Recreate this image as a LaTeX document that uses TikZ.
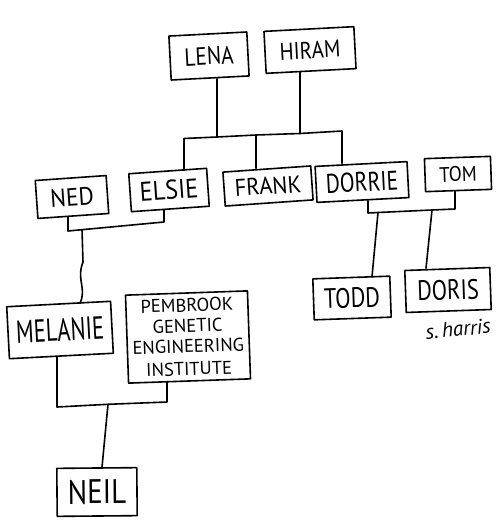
\documentclass[tikz,border=0pt]{standalone}
\usepackage{fontspec}
\usepackage{graphicx}
\setmainfont{PT Sans}
\newcommand\lbl[3]{\scalebox{#2}[1]{\fontsize{#1}{#1}\selectfont #3}}
\begin{document}
\begin{tikzpicture}[x=1pt,y=-1pt,
  box/.style={draw, line width=1.6pt, inner sep=0pt, align=center, line join=round},
  conn/.style={line width=1.6pt, line join=round, line cap=round}]
\useasboundingbox (0,0) rectangle (500,532);
% boxes
\node[box, minimum width=78, minimum height=44, rotate=3] (lena) at (209,56) {\lbl{25}{0.85}{LENA}};
\node[box, minimum width=90, minimum height=42, rotate=3] (hiram) at (310,50) {\lbl{24}{0.87}{HIRAM}};
\node[box, minimum width=71, minimum height=38, rotate=4] (ned) at (72,197) {\lbl{25}{0.94}{NED}};
\node[box, minimum width=78, minimum height=38, rotate=4] (elsie) at (169,190) {\lbl{27}{0.9}{ELSIE}};
\node[box, minimum width=88, minimum height=34, rotate=4] (frank) at (268,186) {\lbl{24}{0.94}{FRANK}};
\node[box, minimum width=92, minimum height=36, rotate=3] (dorrie) at (362,182) {\lbl{27}{0.8}{DORRIE}};
\node[box, minimum width=66, minimum height=33, rotate=2] (tom) at (458,174) {\lbl{21}{0.9}{TOM}};
\node[box, minimum width=104, minimum height=52, rotate=3] (melanie) at (60,330) {\lbl{32}{0.7}{MELANIE}};
\node[box, minimum width=122, minimum height=88, rotate=2, font=\fontsize{18.5}{20.5}\selectfont] (pgei) at (188,337)
  {PEMBROOK\\GENETIC\\ENGINEERING\\[2pt]INSTITUTE};
\node[box, minimum width=80, minimum height=48, rotate=0.5] (neil) at (97,492) {\lbl{34}{0.85}{NEIL}};
\node[box, minimum width=77, minimum height=41, rotate=2] (todd) at (352,298) {\lbl{28}{0.8}{TODD}};
\node[box, minimum width=85, minimum height=42, rotate=2] (doris) at (448,290) {\lbl{28}{0.8}{DORIS}};
\node[rotate=6, font=\itshape\fontsize{21}{21}\selectfont] (sig) at (458,329) {s.\,harris};
% junction coordinates
\coordinate (lj) at (217,137);
\coordinate (hj) at (300,133.5);
\coordinate (b1) at (184,138.5);
\coordinate (fj) at (256,135);
\coordinate (b2) at (342,131);
\coordinate (n1) at (68,231);
\coordinate (n2) at (164,222);
\coordinate (nj) at (82,229.7);
\coordinate (d1) at (368,213);
\coordinate (d2) at (455,209);
\coordinate (dj1) at (378,212.5);
\coordinate (dj2) at (432,210);
\coordinate (m1) at (57,407);
\coordinate (m2) at (167,402);
\coordinate (mj) at (108,404.3);
% connectors
\draw[conn] (lj |- lena.south) -- (lj);
\draw[conn] (hj |- hiram.south) -- (hj);
\draw[conn] (b1 |- elsie.north) -- (b1) -- (lj) -- (fj) -- (hj) -- (b2) -- (b2 |- dorrie.north);
\draw[conn] (fj) -- (fj |- frank.north);
\draw[conn] (n1 |- ned.south) -- (n1) -- (nj) -- (n2) -- (n2 |- elsie.south);
\draw[conn] (nj) -- (83,262) .. controls (76,280) and (87,288) .. ([xshift=-2pt]nj |- melanie.north);
\draw[conn] (d1 |- dorrie.south) -- (d1) -- (dj1) -- (dj2) -- (d2) -- (d2 |- tom.south);
\draw[conn] (dj1) -- ([xshift=-6pt]dj1 |- todd.north);
\draw[conn] (dj2) -- ([xshift=-6pt]dj2 |- doris.north);
\draw[conn] (m1 |- melanie.south) -- (m1) -- (mj) -- (m2) -- (m2 |- pgei.south);
\draw[conn] (mj) -- ([xshift=-6pt]mj |- neil.north);
\end{tikzpicture}
\end{document}
